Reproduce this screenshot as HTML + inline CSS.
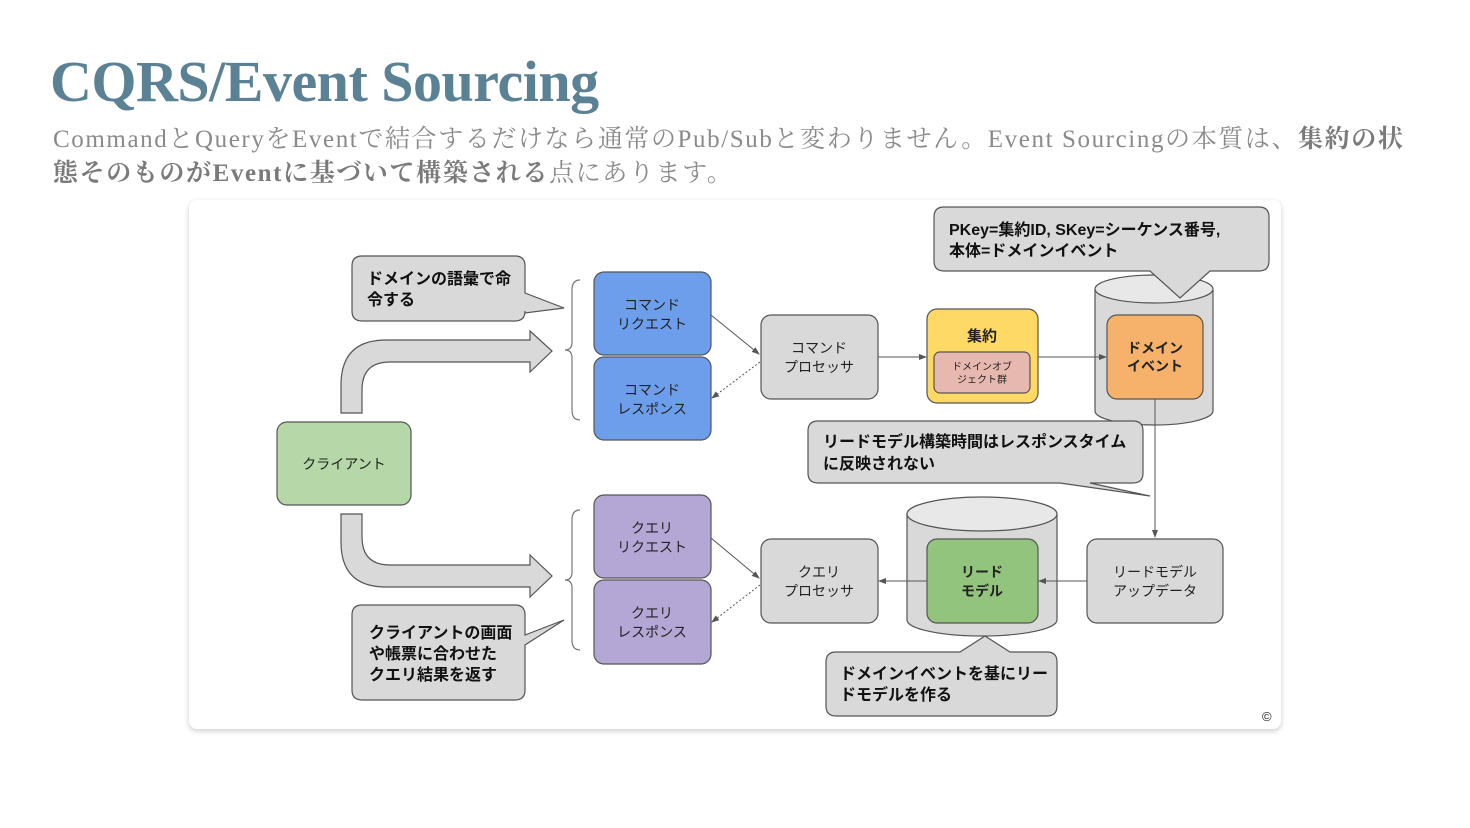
<!DOCTYPE html>
<html><head><meta charset="utf-8">
<style>
body{margin:0;width:1470px;height:828px;background:#fff;overflow:hidden;position:relative;font-family:"Liberation Serif","Noto Serif CJK SC",serif}
h1{position:absolute;left:50px;top:48px;margin:0;font-size:58px;font-weight:bold;color:#5b8194;letter-spacing:-0.5px;white-space:nowrap;font-family:"Liberation Serif",serif}
.sub{position:absolute;left:53px;top:123px;font-size:25px;line-height:34px;color:#8a8a8a;white-space:nowrap;letter-spacing:1.6px;font-family:"Liberation Serif","Noto Serif CJK JP",serif}
.sub b{color:#7a7a7a}
.card{position:absolute;left:189px;top:200px;width:1092px;height:529px;background:#fff;border-radius:8px;box-shadow:0 2px 6px rgba(0,0,0,0.2)}
svg{position:absolute;left:0;top:0}
text{font-family:"Liberation Sans","Noto Sans CJK JP",sans-serif;fill:#222}
.b{font-weight:bold;font-size:16px;fill:#111}
.n{font-size:14px;text-anchor:middle}
</style></head><body>
<h1>CQRS/Event Sourcing</h1>
<div class="sub">CommandとQueryをEventで結合するだけなら通常のPub/Subと変わりません。Event Sourcingの本質は、<b>集約の状</b><br><b>態そのものがEventに基づいて構築される</b>点にあります。</div>
<div class="card"></div>
<svg width="1470" height="828" viewBox="0 0 1470 828">
<defs><marker id="a" markerWidth="8" markerHeight="8" refX="7" refY="4" orient="auto"><path d="M0,1 L8,4 L0,7z" fill="#555"/></marker></defs>
<g stroke="#555" stroke-width="1.2">
<path d="M341,413 V385 Q341,340 386,340 H530 V331 L552,351 L530,372 V362 H390 Q362,362 362,390 V413 Z" fill="#d9d9d9"/>
<path d="M341,514 V542 Q341,587 386,587 H530 V597 L552,576 L530,555 V565 H390 Q362,565 362,537 V514 Z" fill="#d9d9d9"/>
<path d="M580,280 Q572,280 572,290 V342 Q572,350 565,350 Q572,350 572,358 V410 Q572,420 580,420" fill="none" stroke="#777"/>
<path d="M580,510 Q572,510 572,520 V572 Q572,580 565,580 Q572,580 572,588 V640 Q572,650 580,650" fill="none" stroke="#777"/>
<path d="M362,256 H515 Q525,256 525,266 V293 L564,308 L525,313 V311 Q525,321 515,321 H362 Q352,321 352,311 V266 Q352,256 362,256Z" fill="#d9d9d9"/>
<path d="M362,605 H515 Q525,605 525,615 V635 L564,620 L525,645 V690 Q525,700 515,700 H362 Q352,700 352,690 V615 Q352,605 362,605Z" fill="#d9d9d9"/>
<rect x="277" y="422" width="134" height="83" rx="10" fill="#b6d7a8"/>
<rect x="594" y="272" width="117" height="83" rx="10" fill="#6d9eeb"/>
<rect x="594" y="357" width="117" height="83" rx="10" fill="#6d9eeb"/>
<rect x="594" y="495" width="117" height="83" rx="10" fill="#b4a7d6"/>
<rect x="594" y="580" width="117" height="84" rx="10" fill="#b4a7d6"/>
<rect x="761" y="315" width="117" height="84" rx="10" fill="#d9d9d9"/>
<rect x="761" y="539" width="117" height="84" rx="10" fill="#d9d9d9"/>
<rect x="927" y="309" width="111" height="94" rx="10" fill="#ffd966"/>
<rect x="934" y="352" width="96" height="41" rx="6" fill="#e6b8af"/>
<path d="M1095,289 V411 A59,14 0 0 0 1213,411 V289" fill="#d9d9d9"/>
<ellipse cx="1154" cy="289" rx="59" ry="14" fill="#e8e8e8"/>
<rect x="1107" y="315" width="96" height="84" rx="10" fill="#f6b26b"/>
<path d="M907,514 V620 A75,16 0 0 0 1057,620 V514" fill="#d9d9d9"/>
<ellipse cx="982" cy="514" rx="75" ry="17" fill="#e8e8e8"/>
<rect x="927" y="539" width="111" height="84" rx="10" fill="#93c47d"/>
<rect x="1087" y="539" width="136" height="84" rx="10" fill="#d9d9d9"/>
<path d="M944,207 H1259 Q1269,207 1269,217 V261 Q1269,271 1259,271 H1210 L1180,298 L1150,271 H944 Q934,271 934,261 V217 Q934,207 944,207Z" fill="#d9d9d9"/>
<path d="M818,421 H1133 Q1143,421 1143,431 V473 Q1143,483 1133,483 H1090 L1150,496 L1060,483 H818 Q808,483 808,473 V431 Q808,421 818,421Z" fill="#d9d9d9"/>
<path d="M836,652 H960 L985,636 L1010,652 H1047 Q1057,652 1057,662 V706 Q1057,716 1047,716 H836 Q826,716 826,706 V662 Q826,652 836,652Z" fill="#d9d9d9"/>
</g>
<g stroke="#555" stroke-width="1" fill="none">
<line x1="711" y1="315" x2="759" y2="354" marker-end="url(#a)"/>
<line x1="760" y1="362" x2="712" y2="398" stroke-dasharray="2,2" marker-end="url(#a)"/>
<line x1="711" y1="538" x2="759" y2="578" marker-end="url(#a)"/>
<line x1="760" y1="585" x2="712" y2="622" stroke-dasharray="2,2" marker-end="url(#a)"/>
<line x1="878" y1="357" x2="926" y2="357" marker-end="url(#a)"/>
<line x1="1038" y1="357" x2="1106" y2="357" marker-end="url(#a)"/>
<line x1="1155" y1="399" x2="1155" y2="537" marker-end="url(#a)"/>
<line x1="1087" y1="581" x2="1039" y2="581" marker-end="url(#a)"/>
<line x1="927" y1="581" x2="879" y2="581" marker-end="url(#a)"/>
</g>
<text class="b" x="367" y="284">ドメインの語彙で命</text>
<text class="b" x="367" y="305">令する</text>
<text class="b" x="369" y="638">クライアントの画面</text>
<text class="b" x="369" y="659">や帳票に合わせた</text>
<text class="b" x="369" y="680">クエリ結果を返す</text>
<text class="b" x="949" y="235">PKey=集約ID, SKey=シーケンス番号,</text>
<text class="b" x="949" y="256">本体=ドメインイベント</text>
<text class="b" x="823" y="447">リードモデル構築時間はレスポンスタイム</text>
<text class="b" x="823" y="469">に反映されない</text>
<text class="b" x="840" y="679">ドメインイベントを基にリー</text>
<text class="b" x="840" y="700">ドモデルを作る</text>
<text class="n" x="344" y="469">クライアント</text>
<text class="n" x="652" y="310">コマンド</text><text class="n" x="652" y="329">リクエスト</text>
<text class="n" x="652" y="395">コマンド</text><text class="n" x="652" y="414">レスポンス</text>
<text class="n" x="652" y="533">クエリ</text><text class="n" x="652" y="552">リクエスト</text>
<text class="n" x="652" y="618">クエリ</text><text class="n" x="652" y="637">レスポンス</text>
<text class="n" x="819" y="353">コマンド</text><text class="n" x="819" y="372">プロセッサ</text>
<text class="n" x="819" y="577">クエリ</text><text class="n" x="819" y="596">プロセッサ</text>
<text class="n" x="982" y="341" style="font-weight:bold;font-size:15px">集約</text>
<text class="n" x="982" y="370" style="font-size:10px">ドメインオブ</text>
<text class="n" x="982" y="383" style="font-size:10px">ジェクト群</text>
<text class="n" x="1155" y="353" style="font-weight:bold">ドメイン</text><text class="n" x="1155" y="371" style="font-weight:bold">イベント</text>
<text class="n" x="982" y="577" style="font-weight:bold">リード</text><text class="n" x="982" y="596" style="font-weight:bold">モデル</text>
<text class="n" x="1155" y="577">リードモデル</text><text class="n" x="1155" y="596">アップデータ</text>
<text x="1262" y="721" style="font-size:13px">©</text>
</svg>
</body></html>
